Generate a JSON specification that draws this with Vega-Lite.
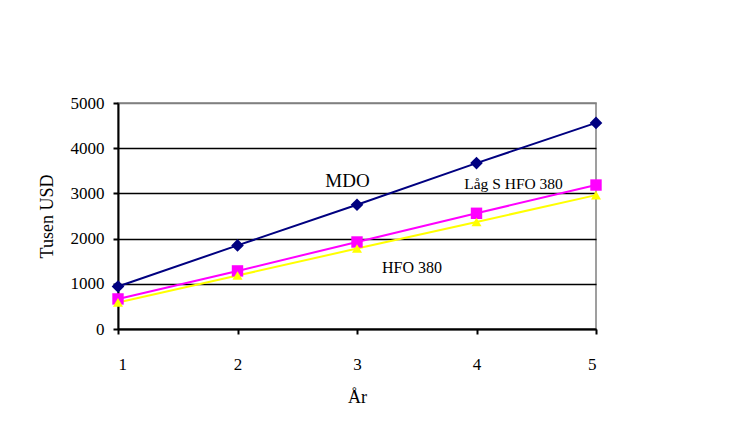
{
  "$schema": "https://vega.github.io/schema/vega-lite/v6.json",
  "width": 478,
  "height": 226,
  "autosize": {"type": "none"},
  "padding": {"left": 118, "top": 103, "right": 141, "bottom": 94},
  "background": "white",
  "config": {
    "view": {"stroke": "#808080", "strokeWidth": 1.5},
    "font": "Liberation Serif",
    "axis": {
      "labelFont": "Liberation Serif",
      "titleFont": "Liberation Serif",
      "labelColor": "black",
      "titleColor": "black",
      "labelFontSize": 17,
      "titleFontSize": 18,
      "titleFontWeight": "normal",
      "domainColor": "black",
      "tickColor": "black",
      "domainWidth": 2,
      "tickWidth": 2,
      "tickSize": 5
    }
  },
  "datasets": {
    "series": [
      {"year": 1, "value": 940, "series": "MDO"},
      {"year": 2, "value": 1850, "series": "MDO"},
      {"year": 3, "value": 2750, "series": "MDO"},
      {"year": 4, "value": 3670, "series": "MDO"},
      {"year": 5, "value": 4560, "series": "MDO"},
      {"year": 1, "value": 665, "series": "Låg S HFO 380"},
      {"year": 2, "value": 1285, "series": "Låg S HFO 380"},
      {"year": 3, "value": 1925, "series": "Låg S HFO 380"},
      {"year": 4, "value": 2560, "series": "Låg S HFO 380"},
      {"year": 5, "value": 3185, "series": "Låg S HFO 380"},
      {"year": 1, "value": 588, "series": "HFO 380"},
      {"year": 2, "value": 1183, "series": "HFO 380"},
      {"year": 3, "value": 1780, "series": "HFO 380"},
      {"year": 4, "value": 2368, "series": "HFO 380"},
      {"year": 5, "value": 2962, "series": "HFO 380"}
    ],
    "labels": [
      {"year": 2.92, "value": 3282, "text": "MDO", "size": 19},
      {"year": 4.31, "value": 3216, "text": "Låg S HFO 380", "size": 15.5},
      {"year": 3.46, "value": 1360, "text": "HFO 380", "size": 16}
    ]
  },
  "layer": [
    {
      "data": {"name": "series"},
      "mark": {"type": "line", "strokeWidth": 2},
      "encoding": {
        "x": {
          "field": "year", "type": "quantitative",
          "scale": {"domain": [1, 5], "nice": false, "zero": false},
          "axis": {
            "values": [1, 2, 3, 4, 5], "format": "d", "grid": false,
            "title": "År", "labelPadding": 22, "titlePadding": 16
          }
        },
        "y": {
          "field": "value", "type": "quantitative",
          "scale": {"domain": [0, 5000], "nice": false},
          "axis": {
            "values": [0, 1000, 2000, 3000, 4000, 5000], "format": "d",
            "grid": true,
            "gridColor": {"condition": {"test": "datum.value == 5000", "value": "#808080"}, "value": "black"},
            "gridWidth": 1.5,
            "title": "Tusen USD", "labelPadding": 9, "titlePadding": 14
          }
        },
        "color": {
          "field": "series", "type": "nominal",
          "scale": {"domain": ["MDO", "Låg S HFO 380", "HFO 380"], "range": ["#000080", "#FF00FF", "#FFFF00"]},
          "legend": null
        },
        "order": {"field": "year"}
      }
    },
    {
      "data": {"name": "series"},
      "mark": {"type": "point", "filled": true, "opacity": 1},
      "encoding": {
        "x": {"field": "year", "type": "quantitative"},
        "y": {"field": "value", "type": "quantitative"},
        "color": {"field": "series", "type": "nominal", "legend": null},
        "shape": {
          "field": "series", "type": "nominal",
          "scale": {"domain": ["MDO", "Låg S HFO 380", "HFO 380"], "range": ["diamond", "square", "triangle-up"]},
          "legend": null
        },
        "size": {
          "field": "series", "type": "nominal",
          "scale": {"domain": ["MDO", "Låg S HFO 380", "HFO 380"], "range": [160, 100, 220]},
          "legend": null
        }
      }
    },
    {
      "data": {"name": "labels"},
      "mark": {"type": "text", "font": "Liberation Serif", "color": "black", "align": "center", "baseline": "middle"},
      "encoding": {
        "x": {"field": "year", "type": "quantitative"},
        "y": {"field": "value", "type": "quantitative"},
        "text": {"field": "text"},
        "size": {"field": "size", "type": "quantitative", "scale": null}
      }
    }
  ]
}
